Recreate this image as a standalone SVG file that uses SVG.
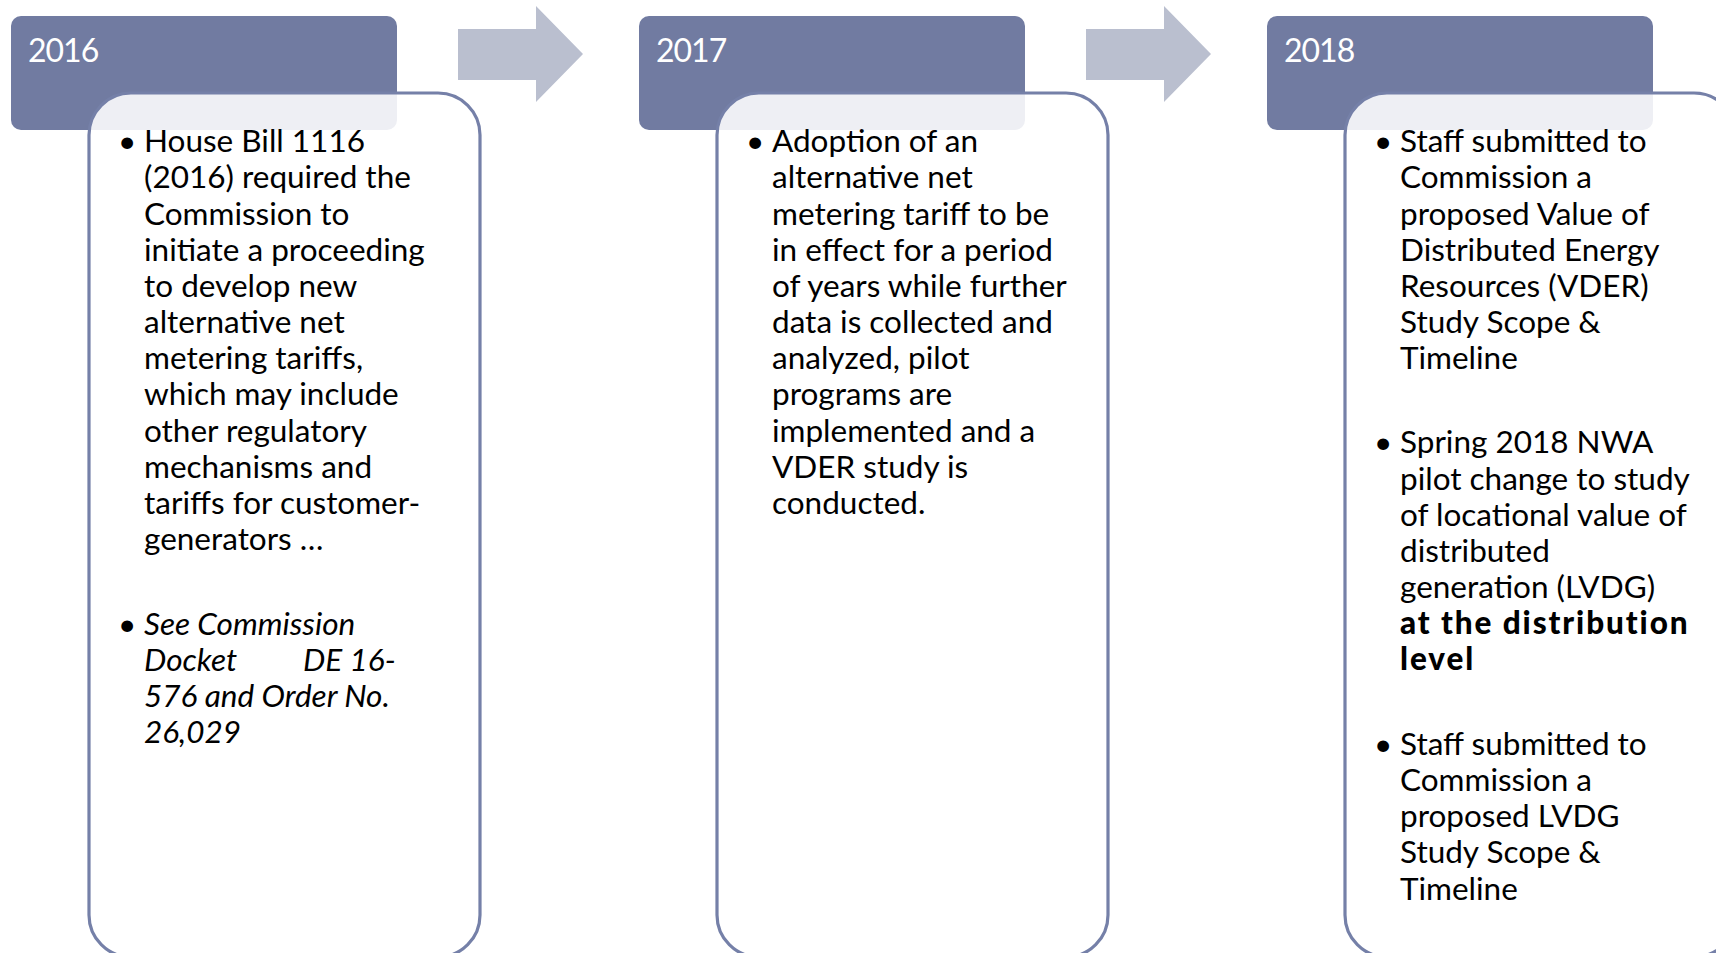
<svg xmlns="http://www.w3.org/2000/svg" width="1716" height="953" viewBox="0 0 1716 953">
  <style>
    .hdr { fill: #717ba1; }
    .box { fill: #ffffff; fill-opacity: 0.88; stroke: #7580a8; stroke-width: 3.2; }
    .arr { fill: #babfcf; }
    .yr { font-family: Lato, "Liberation Sans", sans-serif; font-size: 32px; letter-spacing: -1px; fill: #ffffff; }
    .txt { font-family: Lato, "Liberation Sans", sans-serif; font-size: 31.5px; fill: #000000; }
    .it { font-style: italic; }
    .b { font-weight: 900; letter-spacing: 1.9px; }
  </style>
  <rect width="1716" height="953" fill="#ffffff"/>

  <!-- connectors: chevron arrows between years -->
  <g id="connectors">
    <polygon class="arr" points="458,29 536,29 536,6 583,54 536,102 536,80 458,80"/>
    <polygon class="arr" points="1086,29 1164,29 1164,6 1211,54 1164,102 1164,80 1086,80"/>
  </g>

  <!-- 2016 -->
  <g id="node-2016">
    <rect class="hdr" x="11" y="16" width="386" height="114" rx="10"/>
    <text class="yr" x="28" y="62">2016</text>
    <rect class="box" x="89" y="93" width="391" height="864" rx="42"/>
    <text class="txt">
      <tspan x="118" y="152">•</tspan>
      <tspan x="144" y="152">House Bill 1116</tspan>
      <tspan x="144" y="188">(2016) required the</tspan>
      <tspan x="144" y="225">Commission to</tspan>
      <tspan x="144" y="261">initiate a proceeding</tspan>
      <tspan x="144" y="297">to develop new</tspan>
      <tspan x="144" y="333">alternative net</tspan>
      <tspan x="144" y="369">metering tariffs,</tspan>
      <tspan x="144" y="405">which may include</tspan>
      <tspan x="144" y="442">other regulatory</tspan>
      <tspan x="144" y="478">mechanisms and</tspan>
      <tspan x="144" y="514">tariffs for customer-</tspan>
      <tspan x="144" y="550">generators …</tspan>
    </text>
    <text class="txt">
      <tspan x="118" y="635">•</tspan>
      <tspan class="it" x="144" y="635">See Commission</tspan>
      <tspan class="it" x="144" y="671">Docket</tspan>
      <tspan class="it" x="303" y="671">DE 16-</tspan>
      <tspan class="it" x="144" y="707">576 and Order No.</tspan>
      <tspan class="it" x="144" y="743">26,029</tspan>
    </text>
  </g>

  <!-- 2017 -->
  <g id="node-2017">
    <rect class="hdr" x="639" y="16" width="386" height="114" rx="10"/>
    <text class="yr" x="656" y="62">2017</text>
    <rect class="box" x="717" y="93" width="391" height="864" rx="42"/>
    <text class="txt">
      <tspan x="746" y="152">•</tspan>
      <tspan x="772" y="152">Adoption of an</tspan>
      <tspan x="772" y="188">alternative net</tspan>
      <tspan x="772" y="225">metering tariff to be</tspan>
      <tspan x="772" y="261">in effect for a period</tspan>
      <tspan x="772" y="297">of years while further</tspan>
      <tspan x="772" y="333">data is collected and</tspan>
      <tspan x="772" y="369">analyzed, pilot</tspan>
      <tspan x="772" y="405">programs are</tspan>
      <tspan x="772" y="442">implemented and a</tspan>
      <tspan x="772" y="478">VDER study is</tspan>
      <tspan x="772" y="514">conducted.</tspan>
    </text>
  </g>

  <!-- 2018 -->
  <g id="node-2018">
    <rect class="hdr" x="1267" y="16" width="386" height="114" rx="10"/>
    <text class="yr" x="1284" y="62">2018</text>
    <rect class="box" x="1345" y="93" width="391" height="864" rx="42"/>
    <text class="txt">
      <tspan x="1374" y="152">•</tspan>
      <tspan x="1400" y="152">Staff submitted to</tspan>
      <tspan x="1400" y="188">Commission a</tspan>
      <tspan x="1400" y="225">proposed Value of</tspan>
      <tspan x="1400" y="261">Distributed Energy</tspan>
      <tspan x="1400" y="297">Resources (VDER)</tspan>
      <tspan x="1400" y="333">Study Scope &amp;</tspan>
      <tspan x="1400" y="369">Timeline</tspan>
    </text>
    <text class="txt">
      <tspan x="1374" y="453">•</tspan>
      <tspan x="1400" y="453">Spring 2018 NWA</tspan>
      <tspan x="1400" y="490">pilot change to study</tspan>
      <tspan x="1400" y="526">of locational value of</tspan>
      <tspan x="1400" y="562">distributed</tspan>
      <tspan x="1400" y="598">generation (LVDG)</tspan>
      <tspan class="b" x="1400" y="634">at the distribution</tspan>
      <tspan class="b" x="1400" y="670">level</tspan>
    </text>
    <text class="txt">
      <tspan x="1374" y="755">•</tspan>
      <tspan x="1400" y="755">Staff submitted to</tspan>
      <tspan x="1400" y="791">Commission a</tspan>
      <tspan x="1400" y="827">proposed LVDG</tspan>
      <tspan x="1400" y="863">Study Scope &amp;</tspan>
      <tspan x="1400" y="900">Timeline</tspan>
    </text>
  </g>
</svg>
